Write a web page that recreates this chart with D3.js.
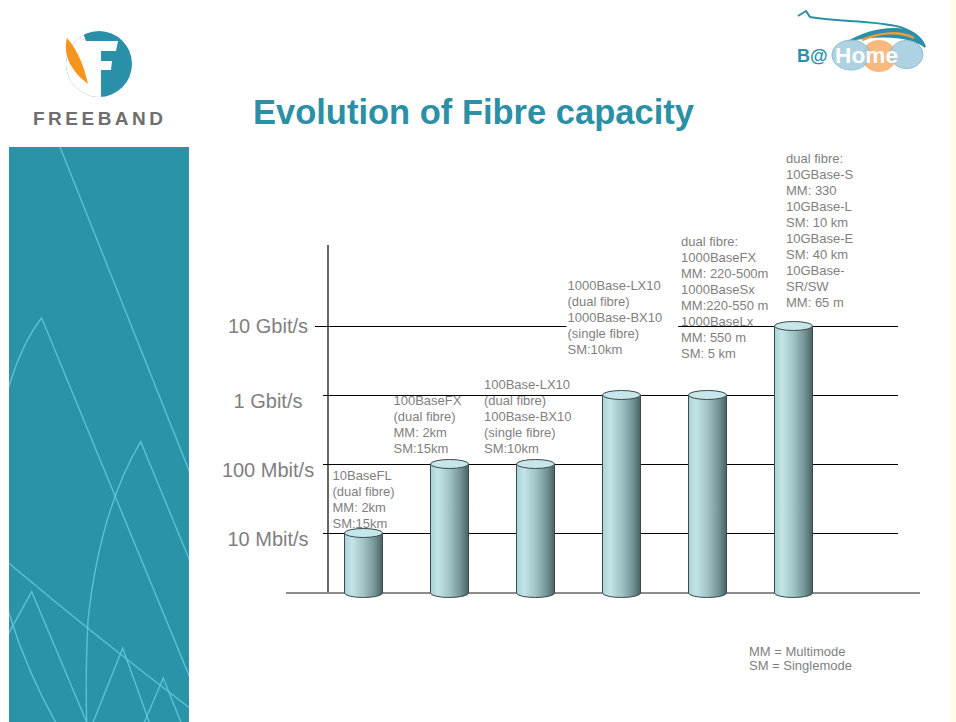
<!DOCTYPE html>
<html>
<head>
<meta charset="utf-8">
<script src="https://cdn.jsdelivr.net/npm/d3@7"></script>
<style>
  html, body { margin: 0; padding: 0; background: #fff; }
  svg { display: block; font-family: "Liberation Sans", Arial, sans-serif; }
</style>
</head>
<body>
<svg id="slide" width="956" height="722"></svg>
<script>
// Fibre Ethernet generations, one cylinder each
const categories = ["10BaseFL", "100BaseFX", "100Base-LX10", "1000Base-LX10", "1000BaseFX/Sx/Lx", "10GBase"];
const capacityMbps = [10, 100, 100, 1000, 1000, 10000];

// Capacity axis
const tickValues = [10, 100, 1000, 10000];
const tickLabels = ["10 Mbit/s", "100 Mbit/s", "1 Gbit/s", "10 Gbit/s"];

// Notes printed above each cylinder
const notes = [
  ["10BaseFL", "(dual fibre)", "MM: 2km", "SM:15km"],
  ["100BaseFX", "(dual fibre)", "MM: 2km", "SM:15km"],
  ["100Base-LX10", "(dual fibre)", "100Base-BX10", "(single fibre)", "SM:10km"],
  ["1000Base-LX10", "(dual fibre)", "1000Base-BX10", "(single fibre)", "SM:10km"],
  ["dual fibre:", "1000BaseFX", "MM: 220-500m", "1000BaseSx", "MM:220-550 m", "1000BaseLx", "MM: 550 m", "SM: 5 km"],
  ["dual fibre:", "10GBase-S", "MM: 330", "10GBase-L", "SM: 10 km", "10GBase-E", "SM: 40 km", "10GBase-", "SR/SW", "MM: 65 m"]
];
const legendLines = ["MM = Multimode", "SM = Singlemode"];
const titleText = "Evolution of Fibre capacity";

// ---------- layout ----------
const plot = { axisX: 328, axisTop: 245, gridLeft: 323, gridRight: 898, baseLeft: 286, baseRight: 920, baseY: 593 };
const barW = 38, capRy = 4.5, lineH = 16;
// note placement: shift from the bar centre, gap between last line and cap, opaque backing
const noteLayout = [
  { dx: -31, gap: 5 },
  { dx: -56, gap: 11.5 },
  { dx: -51.5, gap: 11.5 },
  { dx: -54, gap: 41.5, backed: true },
  { dx: -26.5, gap: 37 },
  { dx: -7.5, gap: 19.5 }
];

const svg = d3.select("#slide");
const defs = svg.append("defs");

svg.append("rect").attr("width", 956).attr("height", 722).attr("fill", "#fff");
svg.append("rect").attr("x", 951).attr("y", 0).attr("width", 5).attr("height", 722).attr("fill", "#fffbe8");

// ---------- left decorative panel ----------
defs.append("clipPath").attr("id", "panelClip")
  .append("rect").attr("x", 9).attr("y", 147).attr("width", 180).attr("height", 575);
svg.append("rect").attr("x", 9).attr("y", 147).attr("width", 180).attr("height", 575).attr("fill", "#2a93a8");
const panelLines = [
  "M60,147 L192,478",
  "M5,400 Q20,345 41.7,318 L195,690",
  "M192,566 L140.7,441.7 Q100,510 88,620 Q85,680 87,730",
  "M5,560 Q100,640 195,712",
  "M5,640 L31.7,591.7 L90,730",
  "M5,600 Q25,670 60,730",
  "M90,730 L122.7,648 L152,730",
  "M141,730 L163.3,678 L184,730"
];
svg.append("g").attr("clip-path", "url(#panelClip)")
  .selectAll("path").data(panelLines).join("path")
  .attr("d", d => d).attr("fill", "none")
  .attr("stroke", "#63cadb").attr("stroke-width", 1.4).attr("opacity", 0.85);

// ---------- logos ----------
const fLogo = svg.append("g");
defs.append("clipPath").attr("id", "fCircle")
  .append("circle").attr("cx", 99).attr("cy", 64).attr("r", 33);
const fg = fLogo.append("g").attr("clip-path", "url(#fCircle)");
fg.append("rect").attr("x", 60).attr("y", 25).attr("width", 80).attr("height", 80).attr("fill", "#2a8fa8");
// white F carved out of the disc
fg.append("path").attr("fill", "#fff")
  .attr("d", "M55,41 L118,41 L116,51 L101,51 L101,61 L112,61 L111,70 L101,70 L101,100 L55,100 Z");
fg.append("path").attr("fill", "#fff").attr("d", "M55,25 L80,25 L86,41 L55,41 Z");
fLogo.append("path").attr("fill", "#f7941d")
  .attr("d", "M67,38 C62,56 73,73 88,84 C84,67 79,52 67,38 Z");
fLogo.append("text").attr("x", 33).attr("y", 124.5)
  .attr("font-size", 19).attr("font-weight", "bold")
  .attr("fill", "#6e6e6e").attr("textLength", 130).attr("lengthAdjust", "spacing")
  .text("FREEBAND");

const bLogo = svg.append("g");
bLogo.append("path").attr("fill", "none").attr("stroke", "#2a8fa8").attr("stroke-width", 2)
  .attr("d", "M798,16 L806,11 L810,17 C835,22 875,20 900,27 C915,32 923,40 925,47");
bLogo.append("path").attr("fill", "#2a8fa8")
  .attr("d", "M846,42 C870,27 900,24 915,33 C922,38 925,43 925,48 C912,37 880,34 846,42 Z");
bLogo.append("path").attr("fill", "none").attr("stroke", "#f39a3c").attr("stroke-width", 2.5)
  .attr("d", "M862,40 C880,32 900,31 914,38");
bLogo.append("ellipse").attr("cx", 879).attr("cy", 56).attr("rx", 17.5).attr("ry", 16).attr("fill", "#f6b97f");
bLogo.append("ellipse").attr("cx", 851).attr("cy", 55).attr("rx", 19).attr("ry", 15).attr("fill", "#a9cfe0").attr("opacity", 0.92).attr("stroke", "#86b8cf");
bLogo.append("ellipse").attr("cx", 906.5).attr("cy", 54.5).attr("rx", 16.5).attr("ry", 14).attr("fill", "#a9cfe0").attr("opacity", 0.92).attr("stroke", "#86b8cf");
bLogo.append("text").attr("x", 797).attr("y", 62).attr("font-size", 18).attr("font-weight", "bold")
  .attr("fill", "#2a8fa8").text("B@");
bLogo.append("text").attr("x", 835).attr("y", 63).attr("font-size", 22).attr("font-weight", "bold")
  .attr("fill", "#fff").attr("textLength", 63).attr("lengthAdjust", "spacingAndGlyphs").text("Home");

// ---------- title ----------
svg.append("text").attr("x", 253).attr("y", 124).attr("font-size", 34.5).attr("font-weight", "bold")
  .attr("fill", "#2b8fa6").text(titleText);

// ---------- scales ----------
const x = d3.scalePoint().domain(categories).range([363.5, 793.5]);
const y = d3.scaleLog().domain([10, 10000]).range([533, 326]);

// ---------- gridlines and axis labels ----------
const yAxis = d3.axisLeft(y)
  .tickValues(tickValues)
  .tickFormat((d, i) => tickLabels[i])
  .tickSize(-(plot.gridRight - plot.gridLeft))
  .tickPadding(0);
const gAxis = svg.append("g")
  .attr("transform", `translate(${plot.gridLeft},0)`)
  .call(yAxis)
  .attr("font-family", null)
  .attr("font-size", 20);
gAxis.select(".domain").remove();
gAxis.selectAll(".tick line").attr("stroke", "#000").attr("stroke-width", 1.2)
  .attr("x1", d => d === 10000 ? -8 : 0);
gAxis.selectAll(".tick text")
  .attr("x", 268 - plot.gridLeft)
  .attr("dy", d => d === 10000 ? "0.34em" : "0.62em")
  .attr("text-anchor", "middle")
  .attr("fill", "#7f7f7f");

// vertical axis and floor
svg.append("line").attr("x1", plot.axisX).attr("x2", plot.axisX)
  .attr("y1", plot.axisTop).attr("y2", plot.baseY - 1)
  .attr("stroke", "#000").attr("stroke-width", 1.2);
svg.append("line").attr("x1", plot.baseLeft).attr("x2", plot.baseRight)
  .attr("y1", plot.baseY).attr("y2", plot.baseY)
  .attr("stroke", "#666").attr("stroke-width", 1.6);

// ---------- notes ----------
const noteG = svg.append("g").attr("font-size", 13).attr("fill", "#7f7f7f");
categories.forEach((c, i) => {
  const lay = noteLayout[i];
  const lines = notes[i];
  const top = y(capacityMbps[i]) - lay.gap - (lines.length - 1) * lineH;
  const g = noteG.append("g").attr("transform", `translate(${x(c) + lay.dx},${top})`);
  const t = g.append("text");
  t.selectAll("tspan").data(lines).join("tspan")
    .attr("x", 0).attr("y", (d, k) => k * lineH).text(d => d);
  if (lay.backed) {
    const bb = t.node().getBBox();
    g.insert("rect", "text")
      .attr("x", bb.x - 1).attr("y", bb.y - 1)
      .attr("width", bb.width + 17).attr("height", bb.height + 2)
      .attr("fill", "#fff");
  }
});

// ---------- cylinders ----------
const grad = defs.append("linearGradient").attr("id", "tube").attr("x1", "0").attr("x2", "1").attr("y1", "0").attr("y2", "0");
[[0, "#a8d3d7"], [0.2, "#c4e4e7"], [0.5, "#a0c3c5"], [0.78, "#769799"], [1, "#4a6364"]]
  .forEach(([o, c]) => grad.append("stop").attr("offset", o).attr("stop-color", c));

const rx = barW / 2;
const bars = svg.append("g").selectAll("g").data(categories).join("g");
bars.append("path")
  .attr("d", (c, i) => {
    const cx = x(c), top = y(capacityMbps[i]), bot = plot.baseY;
    return `M${cx - rx},${top} L${cx - rx},${bot} A${rx},${capRy} 0 0 0 ${cx + rx},${bot} L${cx + rx},${top} Z`;
  })
  .attr("fill", "url(#tube)")
  .attr("stroke", "#3c4a4b").attr("stroke-width", 1);
bars.append("ellipse")
  .attr("cx", c => x(c))
  .attr("cy", (c, i) => y(capacityMbps[i]))
  .attr("rx", rx).attr("ry", capRy)
  .attr("fill", "#c6e6ea")
  .attr("stroke", "#3c4a4b").attr("stroke-width", 1);

// ---------- legend ----------
svg.append("text").attr("font-size", 13).attr("fill", "#7f7f7f")
  .selectAll("tspan").data(legendLines).join("tspan")
  .attr("x", 749).attr("y", (d, k) => 655.5 + k * 14).text(d => d);
</script>
</body>
</html>
